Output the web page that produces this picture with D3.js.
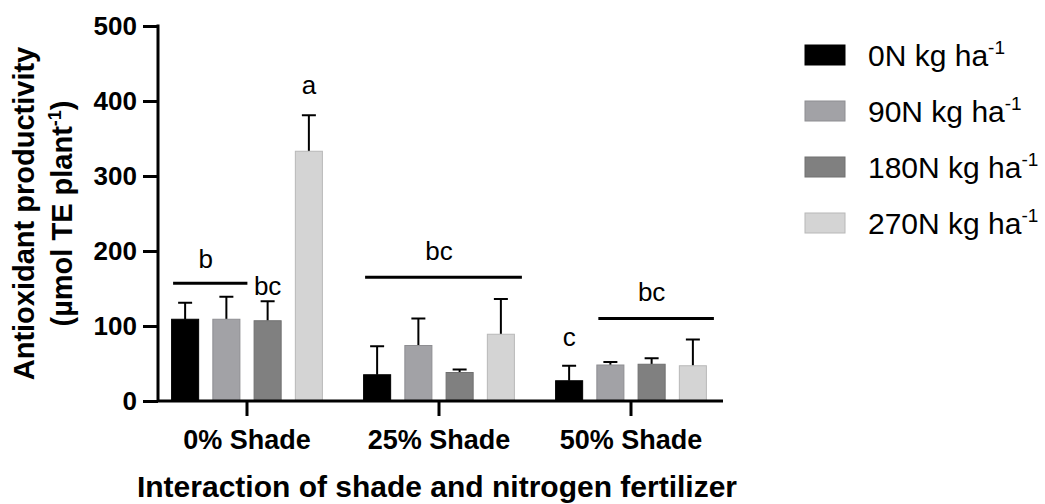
<!DOCTYPE html>
<html>
<head>
<meta charset="utf-8">
<script src="https://cdn.jsdelivr.net/npm/d3@7"></script>
<style>
  body { margin: 0; background: #fff; }
  text { font-family: "Liberation Sans", Arial, sans-serif; fill: #000; }
</style>
</head>
<body>
<div class="container"></div>
<script>
var width = 1045;
var height = 504;

// data
var shades = ["0% Shade", "25% Shade", "50% Shade"];
var rates = ["0N", "90N", "180N", "270N"];
var means = {
  "0% Shade":  [109, 109, 107, 333],
  "25% Shade": [35, 74, 38, 89],
  "50% Shade": [27, 48, 49, 47]
};
var errs = {
  "0% Shade":  [22, 30, 26, 48],
  "25% Shade": [38, 36, 4, 47],
  "50% Shade": [20, 4, 8, 35]
};
var yTicks = [0, 100, 200, 300, 400, 500];

// significance letters: bars first..last of a group, label level in y units
var sigLines = [
  {shade: "0% Shade", first: 0, last: 1, level: 157},
  {shade: "25% Shade", first: 0, last: 3, level: 165},
  {shade: "50% Shade", first: 1, last: 3, level: 110}
];
var sigLetters = [
  {shade: "0% Shade", first: 0, last: 1, level: 178, text: "b"},
  {shade: "0% Shade", first: 2, last: 2, level: 142, text: "bc"},
  {shade: "0% Shade", first: 3, last: 3, level: 410, text: "a"},
  {shade: "25% Shade", first: 0, last: 3, level: 188, text: "bc"},
  {shade: "50% Shade", first: 0, last: 0, level: 73, text: "c"},
  {shade: "50% Shade", first: 1, last: 3, level: 133, text: "bc"}
];

var colors = {
  "0N":   {fill: "#000000", stroke: "#000000"},
  "90N":  {fill: "#a2a2a6", stroke: "#8e8e92"},
  "180N": {fill: "#808080", stroke: "#707070"},
  "270N": {fill: "#d4d4d4", stroke: "#b8b8b8"}
};

var svg = d3.select(".container").append("svg")
  .attr("width", width)
  .attr("height", height);

var yScale = d3.scaleLinear().domain([0, 500]).range([401, 26]);
var x0 = d3.scaleBand().domain(shades).range([151, 727]);
var x1 = d3.scaleBand().domain(rates)
  .range([13.5, 178.5])
  .paddingInner(0.32)
  .paddingOuter(0.16);

function barX(shade, i) {
  return x0(shade) + x1(rates[i]);
}

// bars + error bars
shades.forEach(function (shade) {
  var g = svg.append("g")
    .attr("transform", "translate(" + x0(shade) + ",0)");

  var rows = rates.map(function (r, i) {
    return {rate: r, value: means[shade][i], err: errs[shade][i]};
  });

  g.selectAll("line.err")
    .data(rows)
    .enter().append("line")
    .attr("class", "err")
    .attr("x1", d => x1(d.rate) + x1.bandwidth() / 2)
    .attr("x2", d => x1(d.rate) + x1.bandwidth() / 2)
    .attr("y1", d => yScale(d.value))
    .attr("y2", d => yScale(d.value + d.err))
    .style("stroke", "#000")
    .style("stroke-width", 2);

  g.selectAll("line.cap")
    .data(rows)
    .enter().append("line")
    .attr("class", "cap")
    .attr("x1", d => x1(d.rate) + x1.bandwidth() / 2 - 7)
    .attr("x2", d => x1(d.rate) + x1.bandwidth() / 2 + 7)
    .attr("y1", d => yScale(d.value + d.err))
    .attr("y2", d => yScale(d.value + d.err))
    .style("stroke", "#000")
    .style("stroke-width", 2);

  g.selectAll("rect")
    .data(rows)
    .enter().append("rect")
    .attr("x", d => x1(d.rate) + 0.5)
    .attr("y", d => yScale(d.value))
    .attr("width", x1.bandwidth() - 1)
    .attr("height", d => yScale(0) - yScale(d.value))
    .attr("fill", d => colors[d.rate].fill)
    .style("stroke", d => colors[d.rate].stroke)
    .style("stroke-width", 1);
});

// significance lines and letters
svg.selectAll("line.sig")
  .data(sigLines)
  .enter().append("line")
  .attr("class", "sig")
  .attr("x1", d => barX(d.shade, d.first) + 2)
  .attr("x2", d => barX(d.shade, d.last) + x1.bandwidth() + 7)
  .attr("y1", d => yScale(d.level))
  .attr("y2", d => yScale(d.level))
  .style("stroke", "#000")
  .style("stroke-width", 3);

svg.selectAll("text.sig")
  .data(sigLetters)
  .enter().append("text")
  .attr("class", "sig")
  .attr("x", d => (barX(d.shade, d.first) + barX(d.shade, d.last) + x1.bandwidth()) / 2)
  .attr("y", d => yScale(d.level))
  .style("text-anchor", "middle")
  .style("font-size", "26px")
  .text(d => d.text);

// y axis
var axisY = d3.axisLeft(yScale).tickValues(yTicks).tickSize(15).tickPadding(6);
var gy = svg.append("g")
  .attr("transform", "translate(158,0)")
  .call(axisY);
gy.select(".domain").remove();
gy.append("line")
  .attr("x1", 0).attr("x2", 0)
  .attr("y1", yScale(500) - 1.5).attr("y2", yScale(0))
  .style("stroke", "#000").style("stroke-width", 3);
gy.selectAll(".tick line").style("stroke-width", 3);
gy.selectAll(".tick text")
  .style("font-size", "26px")
  .style("font-weight", "bold")
  .style("font-family", "'Liberation Sans', Arial, sans-serif")
  .style("fill", "#000");

// x axis
var axisX = d3.axisBottom(x0).tickSize(15).tickSizeOuter(0).tickPadding(10);
var gx = svg.append("g")
  .attr("transform", "translate(0," + yScale(0) + ")")
  .call(axisX);
gx.select(".domain").remove();
gx.append("line")
  .attr("x1", 158).attr("x2", 723)
  .attr("y1", 0).attr("y2", 0)
  .style("stroke", "#000").style("stroke-width", 3);
gx.selectAll(".tick line").style("stroke-width", 3);
gx.selectAll(".tick text")
  .attr("y", 48)
  .attr("dy", null)
  .style("font-size", "27px")
  .style("font-weight", "bold")
  .style("font-family", "'Liberation Sans', Arial, sans-serif")
  .style("fill", "#000");

// axis titles
svg.append("text")
  .attr("x", 437)
  .attr("y", 497)
  .style("text-anchor", "middle")
  .style("font-size", "30px")
  .style("font-weight", "bold")
  .text("Interaction of shade and nitrogen fertilizer");

var midY = (yScale(0) + yScale(500)) / 2;
svg.append("text")
  .attr("transform", "translate(34," + midY + ") rotate(-90)")
  .style("text-anchor", "middle")
  .style("font-size", "29px")
  .style("font-weight", "bold")
  .text("Antioxidant productivity");

var unitLabel = svg.append("text")
  .attr("transform", "translate(72," + midY + ") rotate(-90)")
  .style("text-anchor", "middle")
  .style("font-size", "29px")
  .style("font-weight", "bold");
unitLabel.append("tspan").text("(µmol TE plant");
unitLabel.append("tspan").attr("dy", -11).style("font-size", "18px").text("-1");
unitLabel.append("tspan").attr("dy", 11).text(")");

// legend
var legend = svg.append("g")
  .attr("transform", "translate(805,45)");
var dy = 56;

rates.forEach(function (rate, i) {
  legend.append("rect")
    .attr("x", 0)
    .attr("y", i * dy)
    .attr("width", 40)
    .attr("height", 20)
    .attr("fill", colors[rate].fill)
    .style("stroke", colors[rate].stroke)
    .style("stroke-width", 1);

  var t = legend.append("text")
    .attr("x", 63)
    .attr("y", i * dy + 21)
    .style("font-size", "30px");
  t.append("tspan").text(rate + " kg ha");
  t.append("tspan").attr("dy", -12).style("font-size", "19px").text("-1");
});
</script>
</body>
</html>
